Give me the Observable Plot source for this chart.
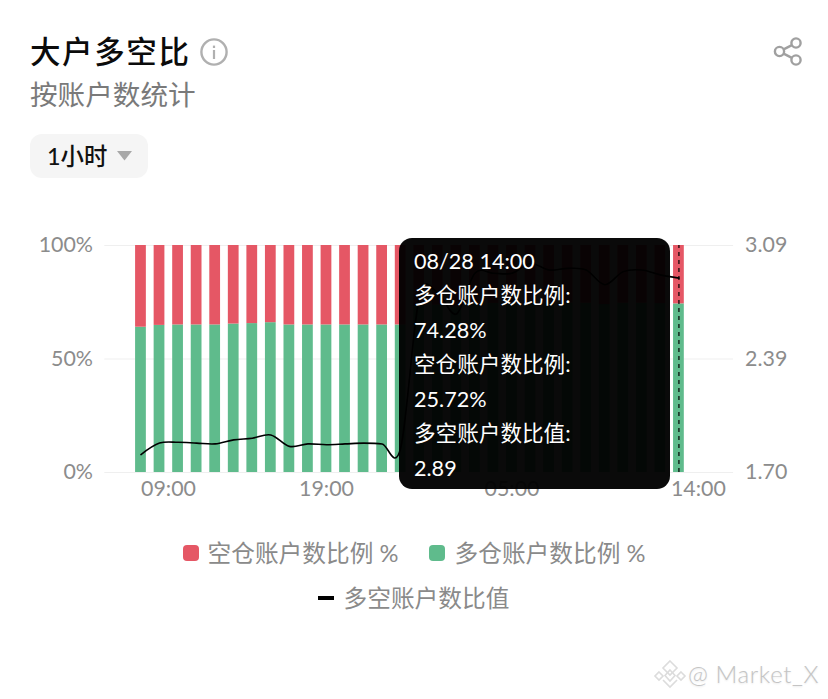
<!DOCTYPE html>
<html lang="zh">
<head>
<meta charset="utf-8">
<script src="https://cdn.jsdelivr.net/npm/d3@7"></script>
<script src="https://cdn.jsdelivr.net/npm/@observablehq/plot@0.6"></script>
<style>
html,body{margin:0;padding:0;background:#fff;width:828px;height:699px;overflow:hidden;}
body{position:relative;font-family:Lato,"Noto Sans CJK SC",sans-serif;}
.abs{position:absolute;white-space:nowrap;}
#chart{position:absolute;left:0;top:220px;}
#chart svg{display:block;}
#tooltip{position:absolute;left:398.5px;top:238px;width:271.5px;height:251px;border-radius:13px;background:rgba(0,0,0,.96);color:#fff;font-size:21.6px;font-weight:400;box-sizing:border-box;padding:5.5px 0 0 15.5px;line-height:34.5px;}
.swatch{position:absolute;width:16px;height:16px;border-radius:4px;}
.legend{position:absolute;font-size:23.7px;font-weight:400;color:#8a8a8a;white-space:nowrap;line-height:30px;}
</style>
</head>
<body>
<div class="abs" style="left:30px;top:28px;font-size:30.5px;font-weight:500;color:#0b0b0b;letter-spacing:1.6px;line-height:46px;">大户多空比</div>
<svg class="abs" style="left:199px;top:37px" width="30" height="30" viewBox="0 0 30 30"><circle cx="15" cy="15" r="12.6" fill="none" stroke="#b0b0b0" stroke-width="2.4"/><rect x="13.9" y="13" width="2.2" height="9" fill="#b0b0b0"/><rect x="13.9" y="8.6" width="2.2" height="2.4" fill="#b0b0b0"/></svg>
<svg class="abs" style="left:770px;top:34px" width="36" height="36" viewBox="0 0 36 36"><g fill="none" stroke="#a0a0a0" stroke-width="2.4"><circle cx="26" cy="9" r="4.6"/><circle cx="9.5" cy="17.5" r="4.6"/><circle cx="26" cy="26" r="4.6"/><path d="M13.6 15.4L21.9 11.1M13.6 19.6L21.9 23.9"/></g></svg>
<div class="abs" style="left:30px;top:74px;font-size:27.6px;font-weight:400;color:#7a7a7a;line-height:42px;">按账户数统计</div>
<div class="abs" style="left:30px;top:134px;width:118px;height:44px;background:#f5f5f5;border-radius:12px;"></div>
<div class="abs" style="left:47px;top:138px;font-size:23.4px;font-weight:500;color:#111;line-height:36px;">1小时</div>
<svg class="abs" style="left:116px;top:150px" width="17" height="12" viewBox="0 0 17 12"><path d="M1 1H16L8.5 10.5Z" fill="#a8a8a8"/></svg>

<div id="chart"></div>

<div id="tooltip">
08/28 14:00<br>多仓账户数比例:<br>74.28%<br>空仓账户数比例:<br>25.72%<br>多空账户数比值:<br>2.89
</div>

<div class="swatch" style="left:183px;top:545px;background:#E55765"></div>
<div class="legend" style="left:207.5px;top:538px">空仓账户数比例 %</div>
<div class="swatch" style="left:429px;top:545px;background:#5FBB8C"></div>
<div class="legend" style="left:454.5px;top:538px">多仓账户数比例 %</div>
<div class="abs" style="left:318px;top:596px;width:16px;height:4px;background:#000"></div>
<div class="legend" style="left:343.5px;top:583px">多空账户数比值</div>

<svg class="abs" style="left:652px;top:658px" width="36" height="36" viewBox="0 0 36 36"><g fill="none" stroke="#dcdcdc" stroke-width="1.6"><path d="M18 3L25 10L18 17L11 10Z"/><path d="M18 12L23 17.5L18 23L13 17.5Z"/><path d="M7 14L11 18L7 22L3 18Z"/><path d="M29 14L33 18L29 22L25 18Z"/><path d="M11 22L18 29L25 22"/></g></svg>
<div class="abs" style="left:688px;top:658px;font-size:24px;font-weight:300;color:#c4c4c4;line-height:32px;letter-spacing:.6px;text-shadow:0 1px 2px rgba(0,0,0,.1);">@ Market_X</div>

<script>
const times = ["08/27 09:00","08/27 10:00","08/27 11:00","08/27 12:00","08/27 13:00","08/27 14:00","08/27 15:00","08/27 16:00","08/27 17:00","08/27 18:00","08/27 19:00","08/27 20:00","08/27 21:00","08/27 22:00","08/27 23:00","08/28 00:00","08/28 01:00","08/28 02:00","08/28 03:00","08/28 04:00","08/28 05:00","08/28 06:00","08/28 07:00","08/28 08:00","08/28 09:00","08/28 10:00","08/28 11:00","08/28 12:00","08/28 13:00","08/28 14:00"];
const longPct = [64.0,64.8,65.0,65.0,65.0,65.4,65.6,66.0,65.0,65.0,65.0,65.0,65.0,65.0,65.0,73.5,73.7,72.8,74.5,74.5,74.5,74.9,74.6,74.7,74.6,74.0,74.6,74.6,74.4,74.28];
const shortPct = [36.0,35.2,35.0,35.0,35.0,34.6,34.4,34.0,35.0,35.0,35.0,35.0,35.0,35.0,35.0,26.5,26.3,27.2,25.5,25.5,25.5,25.1,25.4,25.3,25.4,26.0,25.4,25.4,25.6,25.72];
const ratio = [1.81,1.88,1.885,1.88,1.875,1.90,1.91,1.93,1.86,1.875,1.87,1.875,1.88,1.875,1.85,2.77,2.80,2.67,2.92,2.92,2.92,2.98,2.94,2.95,2.94,2.85,2.93,2.94,2.91,2.89];
const leftTicks = [0,50,100];
const leftLabels = ["0%","50%","100%"];
const rightLabels = ["1.70","2.39","3.09"];
const ratioMin = 1.70, ratioMax = 3.09;
const xLabels = [["08/27 09:00","09:00"],["08/27 19:00","19:00"],["08/28 05:00","05:00"],["08/28 14:00","14:00"]];

const rows = times.map((t,i)=>({t,long:longPct[i],short:shortPct[i],ratio:ratio[i]}));
const toPct = r => (r-ratioMin)/(ratioMax-ratioMin)*100;
const grey = "#8c8c8c";
const font = 'Lato,"Noto Sans CJK SC",sans-serif';

const plot = Plot.plot({
  width:828, height:290,
  marginTop:25, marginBottom:38, marginLeft:127.3, marginRight:136.4,
  style:{background:"transparent",fontFamily:font},
  x:{type:"band",domain:times,padding:.42,round:false,axis:null},
  y:{domain:[0,100],axis:null},
  marks:[
    Plot.ruleY(leftTicks,{stroke:"#efefef",strokeWidth:1,insetLeft:-23,insetRight:-41.5}),
    Plot.barY(rows,{x:"t",y1:0,y2:"long",fill:"#5FBB8C"}),
    Plot.barY(rows,{x:"t",y1:"long",y2:d=>d.long+d.short,fill:"#E55765"}),
    Plot.line(rows,{x:"t",y:d=>toPct(d.ratio),stroke:"#000",strokeWidth:1.6,curve:"cardinal"}),
    Plot.ruleX(times.slice(-1),{y1:0,y2:100,stroke:"#000",strokeWidth:1.2,strokeDasharray:"4 4"}),
    Plot.axisY({anchor:"left",ticks:leftTicks,tickSize:0,tickPadding:34.8,label:null,fontSize:21.4,fill:grey,
      tickFormat:d=>leftLabels[leftTicks.indexOf(d)]}),
    Plot.axisY({anchor:"right",ticks:leftTicks,tickSize:0,tickPadding:53,label:null,fontSize:21.4,fill:grey,
      tickFormat:d=>rightLabels[leftTicks.indexOf(d)]}),
    Plot.text(xLabels.slice(0,1),{x:d=>d[0],y:0,text:d=>d[1],textAnchor:"start",dy:17,fontSize:21.4,fill:grey}),
    Plot.text(xLabels.slice(1,3),{x:d=>d[0],y:0,text:d=>d[1],textAnchor:"middle",dy:17,fontSize:21.4,fill:grey}),
    Plot.text(xLabels.slice(3),{x:d=>d[0],y:0,text:d=>d[1],textAnchor:"start",dx:-8,dy:17,fontSize:21.4,fill:grey})
  ]
});
document.getElementById("chart").appendChild(plot);
</script>
</body>
</html>
